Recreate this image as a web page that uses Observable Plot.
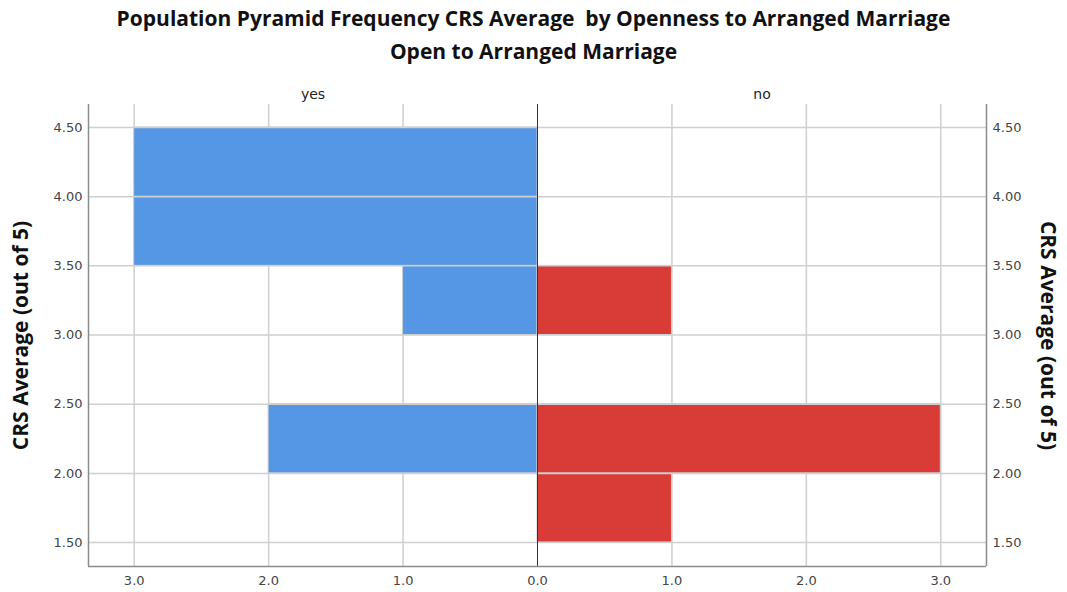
<!DOCTYPE html>
<html>
<head>
<meta charset="utf-8">
<script src="https://cdn.jsdelivr.net/npm/d3@7"></script>
<script src="https://cdn.jsdelivr.net/npm/@observablehq/plot@0.6"></script>
<style>
  html, body { margin: 0; padding: 0; background: #fff; }
  #title { width: 1067px; height: 70px; font-family: "Open Sans", sans-serif; font-weight: 700; font-size: 21px; color: #111; text-align: center; }
  #title div { height: 33px; line-height: 33px; }
  #title .l1 { padding-top: 2px; }
  svg { display: block; }
</style>
</head>
<body>
<div id="title"><div class="l1">Population Pyramid Frequency CRS Average&nbsp; by Openness to Arranged Marriage</div><div>Open to Arranged Marriage</div></div>
<div id="chart"></div>
<script>
// Data
const binStarts = [1.5, 2.0, 2.5, 3.0, 3.5, 4.0];
const binWidth = 0.5;
const yesCounts = [0, 2, 0, 1, 3, 3];
const noCounts  = [1, 3, 0, 1, 0, 0];
const xTicks = [-3, -2, -1, 0, 1, 2, 3];
const yTicks = [1.5, 2.0, 2.5, 3.0, 3.5, 4.0, 4.5];
const panelLabels = ["yes", "no"];
const yTitle = "CRS Average (out of 5)";

const rows = [];
binStarts.forEach((b, i) => {
  if (yesCounts[i] > 0) rows.push({group: "yes", y1: b, y2: b + binWidth, x1: -yesCounts[i], x2: 0});
  if (noCounts[i] > 0) rows.push({group: "no", y1: b, y2: b + binWidth, x1: 0, x2: noCounts[i]});
});

const xMax = 3.34;
const yMin = 1.327, yMax = 4.666;
const gridColor = "#cfcfcf";
const axisColor = "#8c8c8c";
const font = "'Open Sans', sans-serif";
const tickFont = "'DejaVu Sans', sans-serif";

const chart = Plot.plot({
  width: 1067,
  height: 522,
  marginTop: 34,
  marginBottom: 26,
  marginLeft: 88,
  marginRight: 81,
  style: {fontFamily: font, fontSize: "12px", color: "#444", background: "#fff"},
  x: {domain: [-xMax, xMax], axis: null},
  y: {domain: [yMin, yMax], axis: null},
  color: {domain: ["yes", "no"], range: ["#5596e5", "#d93b36"]},
  marks: [
    // vertical grid
    Plot.ruleX(xTicks.filter(d => d !== 0), {stroke: gridColor, strokeWidth: 1.5}),
    // bars
    Plot.rect(rows, {x1: "x1", x2: "x2", y1: "y1", y2: "y2", fill: "group", stroke: "#c9cdd3", strokeWidth: 1}),
    // horizontal grid
    Plot.ruleY(yTicks, {stroke: gridColor, strokeWidth: 1.5}),
    // center line
    Plot.ruleX([0], {stroke: "#333", strokeWidth: 1}),
    // axis lines
    Plot.ruleX([-xMax, xMax], {stroke: axisColor, strokeWidth: 1.5}),
    Plot.ruleY([yMin], {stroke: axisColor, strokeWidth: 1.5}),
    // x tick labels
    Plot.axisX(xTicks, {tickSize: 0, tickPadding: 9, tickFormat: d => Math.abs(d).toFixed(1), fontSize: 13, fontFamily: tickFont, fill: "#444"}),
    // y tick labels
    Plot.axisY(yTicks, {anchor: "left", tickSize: 0, tickPadding: 6, tickFormat: d => d.toFixed(2), fontSize: 13, fontFamily: tickFont, fill: "#444", label: null}),
    Plot.axisY(yTicks, {anchor: "right", tickSize: 0, tickPadding: 6, tickFormat: d => d.toFixed(2), fontSize: 13, fontFamily: tickFont, fill: "#444", label: null}),
    // panel labels
    Plot.text(panelLabels, {x: d => d === "yes" ? -xMax / 2 : xMax / 2, frameAnchor: "top", dy: -15, text: d => d, fontSize: 14, fontFamily: tickFont, fill: "#222"}),
    // y titles
    Plot.text([yTitle], {frameAnchor: "left", textAnchor: "middle", dx: -67, rotate: -90, fontSize: 21, fontFamily: font, fontWeight: "bold", fill: "#111"}),
    Plot.text([yTitle], {frameAnchor: "right", textAnchor: "middle", dx: 61, rotate: 90, fontSize: 21, fontFamily: font, fontWeight: "bold", fill: "#111"})
  ]
});
document.getElementById("chart").appendChild(chart);
</script>
</body>
</html>
